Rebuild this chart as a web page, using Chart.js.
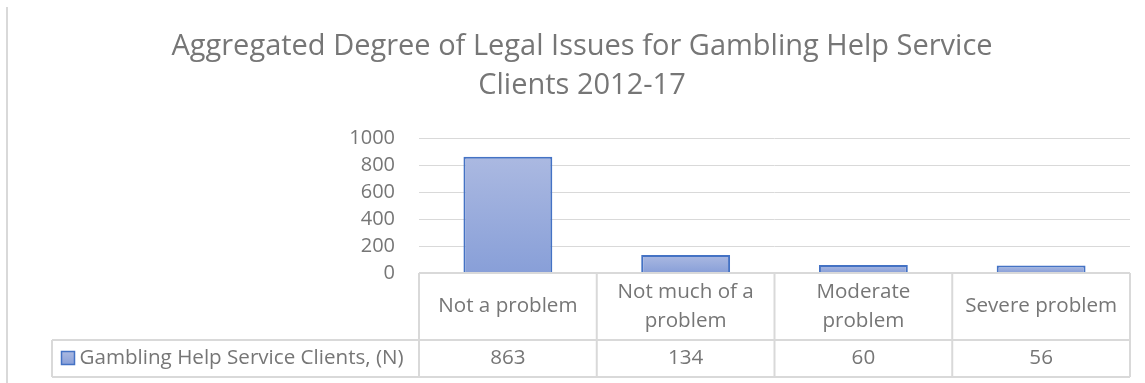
<!DOCTYPE html>
<html>
<head>
<meta charset="utf-8">
<title>Legal Issues - Gambling Help Service Clients</title>
<script src="https://cdn.jsdelivr.net/npm/chart.js@4.4.1/dist/chart.umd.min.js"></script>
<style>
    html, body { margin: 0; padding: 0; background: #fff; }
    canvas { display: block; }
</style>
</head>
<body>
<canvas id="legalChart" width="1145" height="383"></canvas>
<script>
// chart data
const titleLines = ['Aggregated Degree of Legal Issues for Gambling Help Service', 'Clients 2012-17'];
const categories = [['Not a problem'], ['Not much of a', 'problem'], ['Moderate', 'problem'], ['Severe problem']];
const seriesName = 'Gambling Help Service Clients, (N)';
const clientCounts = [863, 134, 60, 56];
const yMax = 1000;
const yStep = 200;

const fontFamily = '"Open Sans", sans-serif';
const textColor = '#767676';
const lineColor = '#d9d9d9';
const barBorder = '#4472c4';
const fillTop = '#abb9e1';
const fillBottom = '#889fd8';

// per-bar vertical gradient, lighter at the top
function barFill(context) {
    const chart = context.chart;
    const y = chart.scales.y;
    if (context.type !== 'data' || !y) return fillTop;
    const top = y.getPixelForValue(context.raw);
    const base = y.getPixelForValue(0);
    if (!Number.isFinite(top) || !Number.isFinite(base) || top === base) return fillTop;
    const g = chart.ctx.createLinearGradient(0, top, 0, base);
    g.addColorStop(0, fillTop);
    g.addColorStop(1, fillBottom);
    return g;
}

// thin frame edge on the left
const frameEdge = {
    id: 'frameEdge',
    beforeDraw(chart) {
        const ctx = chart.ctx;
        ctx.save();
        ctx.strokeStyle = lineColor;
        ctx.lineWidth = 2;
        ctx.beginPath();
        ctx.moveTo(7, 7);
        ctx.lineTo(7, chart.height);
        ctx.stroke();
        ctx.restore();
    }
};

// data table under the plot: category row, then legend key + values
const dataTable = {
    id: 'dataTable',
    afterDraw(chart) {
        const { ctx, chartArea, scales: { x } } = chart;
        const ds = chart.data.datasets[0];
        const n = chart.data.labels.length;
        const colW = (chartArea.right - chartArea.left) / n;
        const top = chartArea.bottom;
        const mid = top + 67;
        const bottom = mid + 37;
        const legendLeft = 52;

        ctx.save();
        ctx.strokeStyle = lineColor;
        ctx.lineWidth = 2;
        ctx.beginPath();
        ctx.moveTo(chartArea.left, top);
        ctx.lineTo(chartArea.right, top);
        ctx.moveTo(legendLeft, mid);
        ctx.lineTo(chartArea.right, mid);
        ctx.moveTo(legendLeft, bottom);
        ctx.lineTo(chartArea.right, bottom);
        for (let i = 0; i <= n; i++) {
            const xx = chartArea.left + i * colW;
            ctx.moveTo(xx, top);
            ctx.lineTo(xx, bottom);
        }
        ctx.moveTo(legendLeft, mid);
        ctx.lineTo(legendLeft, bottom);
        ctx.stroke();

        ctx.fillStyle = textColor;
        ctx.font = '20.6px ' + fontFamily;
        ctx.textAlign = 'center';
        ctx.textBaseline = 'middle';
        const lh = 29;
        chart.data.labels.forEach((lines, i) => {
            const cx = x.getPixelForValue(i);
            const y0 = (top + mid) / 2 - (lines.length - 1) * lh / 2;
            lines.forEach((t, j) => ctx.fillText(t, cx, y0 + j * lh));
            ctx.fillText(String(ds.data[i]), cx, (mid + bottom) / 2);
        });

        // legend key
        const rowMid = (mid + bottom) / 2;
        const key = 13;
        const kx = legendLeft + 9.5;
        const ky = rowMid - key / 2 - 0.5;
        const g = ctx.createLinearGradient(0, ky, 0, ky + key);
        g.addColorStop(0, fillTop);
        g.addColorStop(1, fillBottom);
        ctx.fillStyle = g;
        ctx.fillRect(kx, ky, key, key);
        ctx.strokeStyle = barBorder;
        ctx.lineWidth = 1.5;
        ctx.strokeRect(kx, ky, key, key);

        ctx.fillStyle = textColor;
        ctx.textAlign = 'left';
        ctx.fillText(ds.label, kx + key + 5, rowMid);
        ctx.restore();
    }
};

new Chart(document.getElementById('legalChart'), {
    type: 'bar',
    data: {
        labels: categories,
        datasets: [{
            label: seriesName,
            data: clientCounts,
            backgroundColor: barFill,
            borderColor: barBorder,
            borderWidth: 2,
            categoryPercentage: 1,
            barPercentage: 0.5
        }]
    },
    options: {
        responsive: false,
        devicePixelRatio: 1,
        animation: false,
        layout: {
            padding: { left: 34, right: 15, top: 0, bottom: 110 }
        },
        plugins: {
            legend: { display: false },
            tooltip: { enabled: false },
            title: {
                display: true,
                text: titleLines,
                color: textColor,
                font: { family: fontFamily, size: 29, weight: 'normal', lineHeight: 1.341 },
                padding: { top: 27, bottom: 33.5 }
            }
        },
        scales: {
            x: {
                display: false
            },
            y: {
                min: 0,
                max: yMax,
                afterFit(scale) { scale.width = 385; },
                ticks: {
                    stepSize: yStep,
                    autoSkip: false,
                    padding: 24,
                    color: textColor,
                    font: { family: fontFamily, size: 20 },
                    callback: v => String(v)
                },
                grid: { color: lineColor, lineWidth: 1, drawTicks: false },
                border: { display: false }
            }
        }
    },
    plugins: [frameEdge, dataTable]
});
</script>
</body>
</html>
